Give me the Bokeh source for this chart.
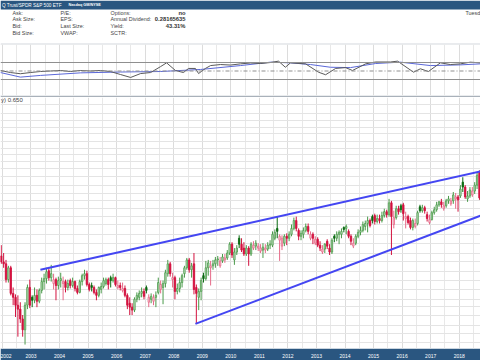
import pandas as pd
from bokeh.plotting import figure
from bokeh.models import Range1d, FixedTicker, ColumnDataSource, Span
from bokeh.layouts import column
from bokeh.embed import file_html
from bokeh.resources import INLINE
from bokeh.core.properties import value

FONT = value("Liberation Sans")
W = 480

# ---------------- data: QQQ:SPY monthly candles (Dec 2001 .. Sep 2018) ----------------
first_month = "2001-12"
open_ = [
    0.5025,
    0.4875, 0.4825, 0.4425, 0.4725, 0.4075, 0.3975, 0.3775, 0.3675, 0.3425, 0.315, 0.3775, 0.4225,
    0.3975, 0.39, 0.4025, 0.3875, 0.415, 0.4375, 0.445, 0.465, 0.4475, 0.4325, 0.4425, 0.4275,
    0.44, 0.4325, 0.4375, 0.4225, 0.44, 0.4275, 0.4375, 0.42, 0.41, 0.4375, 0.4525, 0.4575,
    0.43, 0.4275, 0.4225, 0.41, 0.4025, 0.4175, 0.425, 0.4325, 0.4425, 0.4475, 0.44, 0.4475,
    0.4225, 0.4275, 0.415, 0.42, 0.4025, 0.3825, 0.3725, 0.365, 0.3925, 0.3975, 0.4075, 0.4125,
    0.4225, 0.385, 0.3925, 0.3875, 0.3975, 0.41, 0.4175, 0.4225, 0.4325, 0.4575, 0.4825, 0.4425,
    0.4475, 0.4125, 0.42, 0.435, 0.4575, 0.4725, 0.4925, 0.4675, 0.4825, 0.4225, 0.3975, 0.4125,
    0.4525, 0.445, 0.4725, 0.4725, 0.4775, 0.4825, 0.4925, 0.4775, 0.49, 0.4925, 0.4975, 0.51,
    0.5325, 0.4925, 0.5125, 0.5475, 0.5325, 0.5225, 0.5075, 0.5225, 0.5075, 0.5225, 0.5275, 0.5225,
    0.515, 0.5175, 0.5175, 0.52, 0.53, 0.53, 0.5475, 0.5725, 0.5425, 0.5275, 0.535, 0.5525,
    0.5475, 0.5575, 0.5725, 0.5925, 0.5675, 0.5525, 0.5575, 0.5675, 0.5775, 0.5475, 0.5575, 0.535,
    0.545, 0.53, 0.5125, 0.52, 0.54, 0.5225, 0.5125, 0.5525, 0.5475, 0.5575, 0.5575, 0.575,
    0.5725, 0.565, 0.5525, 0.5275, 0.535, 0.5525, 0.5625, 0.5675, 0.5775, 0.585, 0.5925, 0.6025,
    0.605, 0.59, 0.5975, 0.5925, 0.605, 0.615, 0.6075, 0.6375, 0.5825, 0.60, 0.6225, 0.63,
    0.6325, 0.5975, 0.6025, 0.5925, 0.575, 0.5775, 0.585, 0.6275, 0.6175, 0.625, 0.6075, 0.5875,
    0.595, 0.6125, 0.62, 0.6325, 0.64, 0.6225, 0.63, 0.6425, 0.635, 0.6425, 0.6475, 0.6525,
    0.655, 0.69, 0.6775, 0.6475, 0.655, 0.6575, 0.6675, 0.6825, 0.715,
]
high = [
    0.53,
    0.51, 0.4925, 0.4775, 0.4775, 0.4225, 0.405, 0.4025, 0.385, 0.3525, 0.385, 0.43, 0.4425,
    0.4025, 0.4225, 0.4175, 0.42, 0.4475, 0.4575, 0.4725, 0.4725, 0.48, 0.4575, 0.4475, 0.45,
    0.46, 0.45, 0.4425, 0.4425, 0.445, 0.4475, 0.44, 0.4275, 0.4425, 0.4575, 0.4675, 0.465,
    0.435, 0.435, 0.4275, 0.4175, 0.425, 0.435, 0.4475, 0.4475, 0.4475, 0.4525, 0.4575, 0.45,
    0.44, 0.435, 0.435, 0.4275, 0.4075, 0.3975, 0.3825, 0.3975, 0.41, 0.415, 0.4225, 0.42,
    0.4275, 0.405, 0.4075, 0.405, 0.4125, 0.4475, 0.44, 0.44, 0.4675, 0.4925, 0.4875, 0.46,
    0.4525, 0.4325, 0.4475, 0.4575, 0.4775, 0.4975, 0.4975, 0.485, 0.51, 0.43, 0.42, 0.4475,
    0.46, 0.49, 0.4925, 0.49, 0.4925, 0.50, 0.5025, 0.50, 0.5075, 0.5075, 0.5175, 0.5375,
    0.5375, 0.5225, 0.53, 0.555, 0.5475, 0.5375, 0.53, 0.5275, 0.5375, 0.54, 0.5425, 0.535,
    0.5325, 0.535, 0.5325, 0.5375, 0.5425, 0.565, 0.57, 0.6025, 0.5575, 0.555, 0.5575, 0.56,
    0.565, 0.5825, 0.60, 0.6025, 0.5725, 0.5675, 0.575, 0.585, 0.585, 0.565, 0.5625, 0.5525,
    0.55, 0.54, 0.53, 0.535, 0.545, 0.5325, 0.5475, 0.5575, 0.565, 0.5675, 0.5725, 0.5775,
    0.5825, 0.57, 0.5575, 0.5475, 0.5575, 0.57, 0.5775, 0.59, 0.5925, 0.6025, 0.5975, 0.6075,
    0.61, 0.6075, 0.6075, 0.615, 0.6225, 0.62, 0.6475, 0.6425, 0.6175, 0.63, 0.63, 0.635,
    0.6375, 0.615, 0.6075, 0.60, 0.5975, 0.5975, 0.6175, 0.6325, 0.6325, 0.63, 0.615, 0.6075,
    0.6175, 0.6275, 0.64, 0.6425, 0.6475, 0.64, 0.6475, 0.655, 0.65, 0.665, 0.6625, 0.6575,
    0.6825, 0.7025, 0.6825, 0.6675, 0.6775, 0.6775, 0.69, 0.715, 0.72,
]
low = [
    0.4825,
    0.4725, 0.435, 0.435, 0.4025, 0.3775, 0.3475, 0.2975, 0.3325, 0.2975, 0.2775, 0.3675, 0.37,
    0.3725, 0.3825, 0.3725, 0.3825, 0.4075, 0.4175, 0.4325, 0.44, 0.4375, 0.4175, 0.39, 0.4175,
    0.4225, 0.39, 0.41, 0.415, 0.42, 0.4225, 0.4125, 0.405, 0.4075, 0.4275, 0.4425, 0.425,
    0.4125, 0.4125, 0.405, 0.39, 0.3975, 0.4075, 0.42, 0.4275, 0.4175, 0.4225, 0.435, 0.425,
    0.4175, 0.415, 0.41, 0.3975, 0.3675, 0.3525, 0.3525, 0.36, 0.385, 0.39, 0.3975, 0.3925,
    0.4075, 0.3725, 0.3825, 0.3775, 0.3725, 0.405, 0.4075, 0.38, 0.4225, 0.45, 0.45, 0.4225,
    0.3925, 0.405, 0.41, 0.4225, 0.4475, 0.4675, 0.46, 0.4475, 0.405, 0.33, 0.365, 0.39,
    0.435, 0.44, 0.4525, 0.4275, 0.4675, 0.4725, 0.4775, 0.4725, 0.485, 0.485, 0.4925, 0.505,
    0.4975, 0.48, 0.505, 0.5225, 0.5125, 0.5025, 0.5025, 0.4775, 0.5025, 0.5175, 0.5175, 0.515,
    0.51, 0.4975, 0.51, 0.515, 0.52, 0.525, 0.5425, 0.5475, 0.49, 0.5175, 0.5275, 0.53,
    0.54, 0.5525, 0.5675, 0.565, 0.5425, 0.5425, 0.5475, 0.5625, 0.5575, 0.5425, 0.5325, 0.53,
    0.525, 0.515, 0.5075, 0.51, 0.52, 0.505, 0.5075, 0.5375, 0.54, 0.5325, 0.5475, 0.5625,
    0.5575, 0.5475, 0.53, 0.5225, 0.53, 0.5475, 0.555, 0.5625, 0.5675, 0.5625, 0.575, 0.585,
    0.5825, 0.585, 0.585, 0.5875, 0.60, 0.60, 0.6025, 0.505, 0.5725, 0.595, 0.6075, 0.6125,
    0.5925, 0.5725, 0.5825, 0.57, 0.5675, 0.5725, 0.58, 0.6125, 0.6125, 0.61, 0.59, 0.5825,
    0.5925, 0.6075, 0.615, 0.6275, 0.625, 0.6175, 0.625, 0.635, 0.63, 0.635, 0.6225, 0.615,
    0.65, 0.665, 0.6475, 0.64, 0.65, 0.6525, 0.66, 0.6725, 0.645,
]
close = [
    0.4875,
    0.4825, 0.4425, 0.4725, 0.4075, 0.3975, 0.3775, 0.3675, 0.3425, 0.315, 0.3775, 0.4225, 0.3775,
    0.39, 0.4025, 0.3875, 0.415, 0.4375, 0.445, 0.4625, 0.4475, 0.4575, 0.4425, 0.4275, 0.44,
    0.445, 0.4375, 0.4225, 0.4325, 0.4275, 0.4375, 0.42, 0.41, 0.4375, 0.4525, 0.4575, 0.43,
    0.4175, 0.4225, 0.41, 0.4025, 0.4225, 0.425, 0.44, 0.4425, 0.43, 0.44, 0.4475, 0.43,
    0.4275, 0.4225, 0.42, 0.4025, 0.3775, 0.3725, 0.365, 0.3925, 0.4025, 0.4075, 0.4125, 0.40,
    0.415, 0.3975, 0.40, 0.3975, 0.4025, 0.435, 0.43, 0.4325, 0.46, 0.4825, 0.4575, 0.4475,
    0.4125, 0.42, 0.435, 0.4525, 0.4725, 0.4925, 0.4675, 0.4775, 0.4175, 0.4075, 0.4125, 0.44,
    0.445, 0.4725, 0.485, 0.4775, 0.4825, 0.4925, 0.495, 0.49, 0.50, 0.4975, 0.51, 0.5325,
    0.505, 0.5125, 0.5225, 0.5325, 0.5175, 0.5075, 0.5225, 0.5075, 0.5325, 0.53, 0.535, 0.5275,
    0.5225, 0.525, 0.5225, 0.53, 0.5325, 0.5575, 0.5625, 0.565, 0.5525, 0.5475, 0.5525, 0.5475,
    0.5575, 0.5725, 0.5925, 0.5725, 0.5525, 0.56, 0.5675, 0.5775, 0.565, 0.5575, 0.5475, 0.545,
    0.53, 0.5225, 0.52, 0.5325, 0.5275, 0.5125, 0.5425, 0.5475, 0.5575, 0.5625, 0.565, 0.57,
    0.5775, 0.5525, 0.54, 0.535, 0.5525, 0.5625, 0.5675, 0.5825, 0.585, 0.5925, 0.58, 0.5925,
    0.59, 0.5975, 0.5925, 0.605, 0.615, 0.6075, 0.6375, 0.6025, 0.60, 0.6225, 0.615, 0.62,
    0.61, 0.6025, 0.5875, 0.575, 0.5925, 0.585, 0.6125, 0.6175, 0.625, 0.6175, 0.5975, 0.595,
    0.6125, 0.62, 0.6325, 0.64, 0.6325, 0.63, 0.6425, 0.6475, 0.6425, 0.6575, 0.6525, 0.645,
    0.6725, 0.6775, 0.6525, 0.655, 0.67, 0.6675, 0.6825, 0.7075, 0.65,
]
last_value = "0.650"

# trend lines (decimal year, ratio)
upper_t = [2003.33, 2018.75]
upper_v = [0.4675, 0.7175]
lower_t = [2008.76, 2018.75]
lower_v = [0.33, 0.605]

# indicator panel (decimal year, value)
ind_t = [2001.93, 2002.28, 2002.63, 2002.98, 2003.33, 2003.68, 2004.03, 2004.38, 2004.73, 2005.08,
         2005.43, 2005.78, 2006.14, 2006.49, 2006.84, 2007.19, 2007.54, 2007.75, 2008.06, 2008.34,
         2008.52, 2008.76, 2008.87, 2009.11, 2009.29, 2009.64, 2009.99, 2010.34, 2010.69, 2011.04,
         2011.39, 2011.67, 2011.91, 2012.09, 2012.62, 2013.07, 2013.32, 2013.67, 2014.02, 2014.26,
         2014.72, 2015.07, 2015.59, 2015.84, 2016.40, 2016.64, 2016.92, 2017.34, 2017.69, 2018.04,
         2018.39, 2018.74]
ind_v = [0.53, 0.41, 0.34, 0.41, 0.47, 0.50, 0.53, 0.47, 0.53, 0.50,
         0.53, 0.47, 0.29, 0.12, 0.35, 0.41, 0.76, 0.98, 0.53, 0.41,
         0.65, 0.65, 0.35, 0.65, 0.82, 0.88, 0.85, 0.92, 0.97, 0.94,
         1.00, 1.08, 0.72, 0.98, 0.92, 0.43, 0.28, 0.65, 0.70, 0.53,
         0.92, 1.03, 1.03, 1.08, 0.43, 0.63, 0.47, 0.98, 0.88, 0.92,
         1.02, 0.98]
ma_t = [2001.93, 2002.63, 2003.33, 2004.73, 2006.14, 2007.54, 2008.94, 2010.34, 2011.39,
        2012.09, 2012.79, 2013.49, 2014.19, 2015.07, 2015.94, 2016.99, 2018.04, 2018.74]
ma_v = [0.41, 0.14, 0.24, 0.39, 0.44, 0.47, 0.59, 0.82, 1.02,
        0.98, 0.88, 0.72, 0.70, 0.94, 1.02, 0.82, 0.86, 0.92]
ind_levels = [1.0, 0.5, 0.0]

# axis ticks / grid levels
year_ticks = list(range(2002, 2019))
half_year_ticks = [2001.5, 2002.5, 2003.5, 2004.5, 2005.5, 2006.5, 2007.5, 2008.5, 2009.5,
                   2010.5, 2011.5, 2012.5, 2013.5, 2014.5, 2015.5, 2016.5, 2017.5, 2018.5]
price_grid = [0.283, 0.306, 0.327, 0.352, 0.373, 0.393, 0.418, 0.439, 0.464, 0.489, 0.51,
              0.535, 0.556, 0.583, 0.602, 0.623, 0.643, 0.662, 0.681, 0.704, 0.725, 0.743,
              0.76, 0.775, 0.793, 0.814, 0.829, 0.846, 0.864, 0.888]

info_labels = [["Ask:", "Ask Size:", "Bid:", "Bid Size:"],
               ["P/E:", "EPS:", "Last Size:", "VWAP:"],
               ["Options:", "Annual Dividend:", "Yield:", "SCTR:"]]
info_values = ["no", "0.28165635", "43.31%", ""]
title_text = "Q Trust/SPDR S&P 500 ETF"
exchange_text = "Nasdaq GM/NYSE"
date_text = "Tuesd"

# ---------------- derived ----------------
months = pd.period_range(first_month, periods=len(close), freq="M")
t = [m.year + (m.month - 0.5) / 12 for m in months]
prev = [open_[0]] + close[:-1]
fills, lines = [], []
for o, c, pc in zip(open_, close, prev):
    up = c >= pc
    hollow = c >= o
    if up and hollow:
        lines.append("#4a9a4a"); fills.append("#c6e3c6")
    elif up:
        lines.append("#0b6b12"); fills.append("#0b6b12")
    elif hollow:
        lines.append("#e66a88"); fills.append("#f9d6df")
    else:
        lines.append("#d3123f"); fills.append("#d3123f")
src = ColumnDataSource(dict(t=t, o=open_, h=high, l=low, c=close,
                            top=[max(a, b) for a, b in zip(open_, close)],
                            bot=[min(a, b) for a, b in zip(open_, close)],
                            fill=fills, line=lines))

BLUE_BAR = "#2a5680"
xr = Range1d(2001.932, 2018.745)

# ---------------- header / info panel ----------------
hdr = figure(width=W, height=43, x_range=Range1d(0, W), y_range=Range1d(43, 0),
             toolbar_location=None, output_backend="svg",
             x_axis_location=None, y_axis_location=None, min_border=0)
hdr.outline_line_color = None
hdr.grid.visible = False
hdr.quad(left=[0], right=[W], top=[0], bottom=[9], fill_color=BLUE_BAR, line_color=None)
hdr.text(x=[1.5], y=[4.8], text=[title_text], text_font=FONT, text_font_size="4.7px",
         text_color="white", text_baseline="middle")
hdr.text(x=[68], y=[4.9], text=[exchange_text], text_font=FONT, text_font_size="3.8px",
         text_font_style="bold", text_color="white", text_baseline="middle")
col_x = [12, 60, 110]
row_y = [12, 18.7, 25.3, 32]
for cx, labels in zip(col_x, info_labels):
    hdr.text(x=[cx] * len(labels), y=row_y, text=labels, text_font=FONT,
             text_font_size="5.4px", text_color="#444444", text_baseline="middle")
hdr.text(x=[185] * 4, y=row_y, text=info_values, text_font=FONT, text_font_size="5.8px",
         text_font_style="bold", text_color="#333333", text_baseline="middle",
         text_align="right")
hdr.text(x=[465], y=[12.7], text=[date_text], text_font=FONT, text_font_size="5.4px",
         text_color="#444444", text_baseline="middle")

# ---------------- indicator panel ----------------
ind = figure(width=W, height=54, x_range=xr, y_range=Range1d(-0.941, 2.059),
             toolbar_location=None, output_backend="svg",
             x_axis_location=None, y_axis_location=None,
             min_border_left=0, min_border_right=0, min_border_top=1, min_border_bottom=2)
ind.border_fill_color = "#a9b1ba"
ind.outline_line_color = None
ind.xgrid.ticker = FixedTicker(ticks=year_ticks, minor_ticks=half_year_ticks)
ind.xgrid.grid_line_color = "#dcdcdc"
ind.xgrid.minor_grid_line_color = "#e8e8e8"
ind.ygrid.grid_line_color = None
level_styles = [("solid", 1.2), ("4 2 1 2", 1.0), ("solid", 1.2)]
for lvl, (dash, lw) in zip(ind_levels, level_styles):
    ind.add_layout(Span(location=lvl, dimension="width", line_color="#8f8f8f",
                        line_width=lw, line_dash=dash))
ind.line(ma_t, ma_v, line_color="#5b68d8", line_width=1)
ind.line(ind_t, ind_v, line_color="#5a5a5a", line_width=1)

# ---------------- main price panel ----------------
p = figure(width=W, height=263, x_range=xr, y_range=Range1d(0.2675, 0.905),
           toolbar_location=None, output_backend="svg", y_axis_location=None,
           min_border_left=0, min_border_right=0, min_border_top=0, min_border_bottom=8)
p.border_fill_color = BLUE_BAR
p.outline_line_color = None
p.xaxis.ticker = FixedTicker(ticks=year_ticks, minor_ticks=half_year_ticks)
p.xaxis.axis_line_color = None
p.xaxis.major_tick_line_color = None
p.xaxis.minor_tick_line_color = None
p.xaxis.major_tick_out = 0
p.xaxis.major_tick_in = 0
p.xaxis.major_label_standoff = 1
p.xaxis.major_label_text_color = "white"
p.xaxis.major_label_text_font = "Liberation Sans"
p.xaxis.major_label_text_font_size = "5px"
p.xgrid.grid_line_color = "#dcdcdc"
p.xgrid.minor_grid_line_color = "#e8e8e8"
p.ygrid.ticker = FixedTicker(ticks=price_grid)
p.ygrid.grid_line_color = "#e4e4e4"

p.segment(x0="t", y0="l", x1="t", y1="h", line_color="line", line_width=1, source=src)
p.vbar(x="t", top="top", bottom="bot", width=0.05, fill_color="fill", line_color="line",
       line_width=0.8, source=src)
p.line(upper_t, upper_v, line_color="#4446f2", line_width=2)
p.line(lower_t, lower_v, line_color="#4446f2", line_width=2)
p.text(x=[xr.start + 0.02], y=[0.8975], text=["y) " + last_value], text_font=FONT,
       text_font_size="6px", text_color="#444444", text_baseline="middle")

layout = column(hdr, ind, p)
open("out.html", "w").write(file_html(layout, INLINE))
